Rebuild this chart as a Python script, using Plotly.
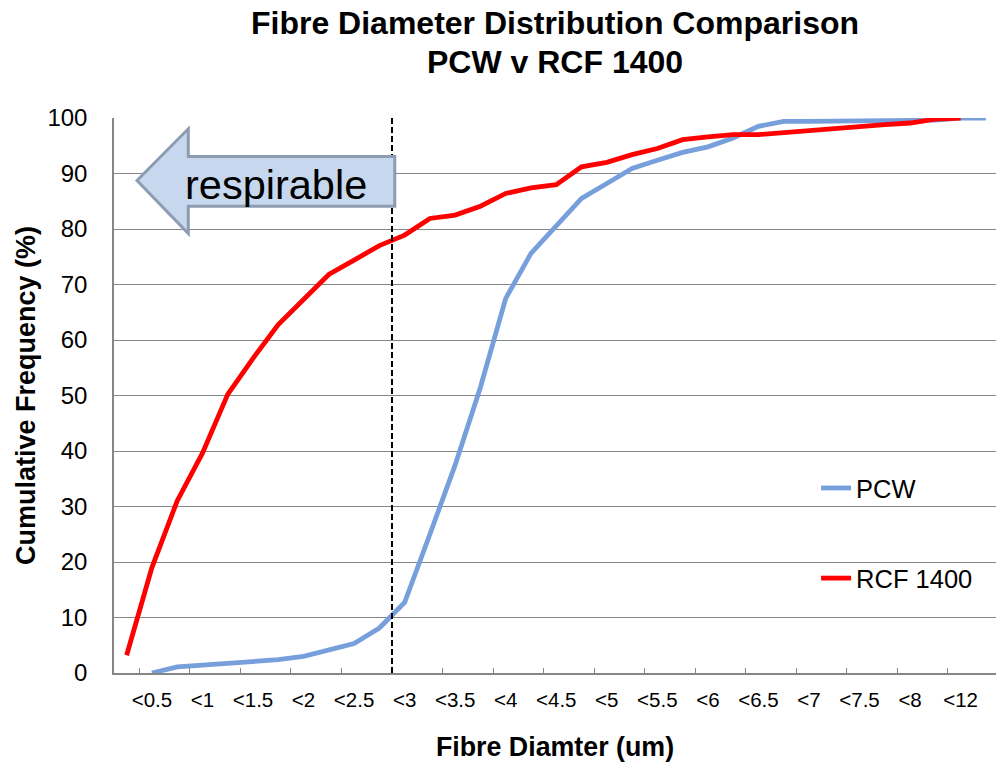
import plotly.graph_objects as go

# ---------------- data ----------------
TICK_LABELS = ["<0.5", "<1", "<1.5", "<2", "<2.5", "<3", "<3.5", "<4", "<4.5",
               "<5", "<5.5", "<6", "<6.5", "<7", "<7.5", "<8", "<12"]

PCW = [None, 0, 1.1, 1.4, 1.7, 2.0, 2.4, 3.0, 4.1, 5.3, 8.1, 12.7, 25.0, 37.5,
       51.5, 67.5, 75.6, 80.7, 85.5, 88.2, 90.9, 92.4, 93.8, 94.8, 96.4, 98.5,
       99.4, 99.4, 99.4, 99.5, 99.5, 99.5, 99.6, 100, 100]

RCF_1400 = [3.2, 19.0, 31.0, 39.6, 50.2, 56.7, 62.8, 67.3, 71.8, 74.4, 77.0,
            78.9, 81.9, 82.5, 84.1, 86.4, 87.4, 88.0, 91.2, 92.0, 93.4, 94.5,
            96.1, 96.6, 97.0, 97.0, 97.4, 97.8, 98.2, 98.5, 98.8, 99.1, 99.8,
            100, None]

SERIES_NAMES = ["PCW", "RCF 1400"]
RESPIRABLE_LIMIT = 10.5   # category boundary just below "<3"

# ---------------- styling ----------------
FONT = "Arial, Liberation Sans, sans-serif"
GRID = "#868686"
BLUE = "#779fdb"
RED = "#ff0000"

x_pos = list(range(len(PCW)))
label_pos = [2 * i + 1 for i in range(len(TICK_LABELS))]
minor_pos = [2 * i + 0.5 for i in range(len(TICK_LABELS))]

fig = go.Figure()
fig.add_trace(go.Scatter(x=x_pos, y=PCW, mode="lines", name=SERIES_NAMES[0],
                         legendgroup="a",
                         line=dict(color=BLUE, width=4.8), connectgaps=False))
fig.add_trace(go.Scatter(x=x_pos, y=RCF_1400, mode="lines", name=SERIES_NAMES[1],
                         legendgroup="b",
                         line=dict(color=RED, width=4.8), connectgaps=False))

# white legend area hiding the gridlines
fig.add_shape(type="rect", xref="paper", yref="y", x0=0.736, x1=1.0, y0=5, y1=45,
              fillcolor="white", line=dict(width=0), layer="between")

# dashed respirable limit
fig.add_shape(type="line", xref="x", yref="paper", x0=RESPIRABLE_LIMIT,
              x1=RESPIRABLE_LIMIT, y0=0, y1=1,
              line=dict(color="black", width=2, dash="6px,3px"))

# block arrow pointing left
arrow = ("M 0.41,88.75 L 2.44,98.06 L 2.44,93.07 L 10.61,93.07 "
         "L 10.61,84.08 L 2.44,84.08 L 2.44,79.17 Z")
fig.add_shape(type="path", xref="x", yref="y", path=arrow,
              fillcolor="#c6d7ee", line=dict(color="#8e9cb2", width=3))
fig.add_annotation(x=5.9, y=88.0, xref="x", yref="y", text="respirable",
                   showarrow=False, font=dict(family=FONT, size=41.5, color="black"))

# second title line
fig.add_annotation(x=0.5, xref="paper", y=1.1017, yref="paper",
                   yanchor="middle", text="<b>PCW v RCF 1400</b>", showarrow=False,
                   font=dict(family=FONT, size=32, color="black"))

fig.update_layout(
    width=996, height=764,
    margin=dict(l=113.7, r=0, t=117.5, b=90.7),
    paper_bgcolor="white", plot_bgcolor="white",
    font=dict(family=FONT, color="black"),
    title=dict(text="<b>Fibre Diameter Distribution Comparison</b>",
               x=0.5, xref="paper", xanchor="center",
               y=1 - 12 / 764, yref="container", yanchor="top",
               font=dict(family=FONT, size=32, color="black")),
    showlegend=True,
    legend=dict(x=0.796, xanchor="left", y=0.375, yanchor="top",
                bgcolor="rgba(0,0,0,0)", font=dict(family=FONT, size=25.5, color="black"),
                traceorder="grouped", tracegroupgap=54),
    xaxis=dict(range=[-0.5, 34.4], tickmode="array", tickvals=label_pos,
               ticktext=TICK_LABELS, ticks="", showgrid=False, zeroline=False,
               showline=True, linecolor=GRID, linewidth=1.5,
               tickfont=dict(family=FONT, size=20.5, color="black"),
               ticklabelstandoff=8,
               minor=dict(tickmode="array", tickvals=minor_pos, ticks="inside",
                          ticklen=5, tickwidth=1.3, tickcolor=GRID, showgrid=False),
               title=dict(text="<b>Fibre Diamter (um)</b>", standoff=27,
                          font=dict(family=FONT, size=26.8, color="black"))),
    yaxis=dict(range=[0, 100], tickmode="linear", tick0=0, dtick=10, ticks="",
               showgrid=True, gridcolor=GRID, gridwidth=1.3, zeroline=False,
               showline=True, linecolor=GRID, linewidth=1.5,
               tickfont=dict(family=FONT, size=24, color="black"),
               ticklabelstandoff=20,
               title=dict(text="<b>Cumulative Frequency (%)</b>", standoff=4,
                          font=dict(family=FONT, size=27, color="black"))),
)

fig.write_html("out.html")
